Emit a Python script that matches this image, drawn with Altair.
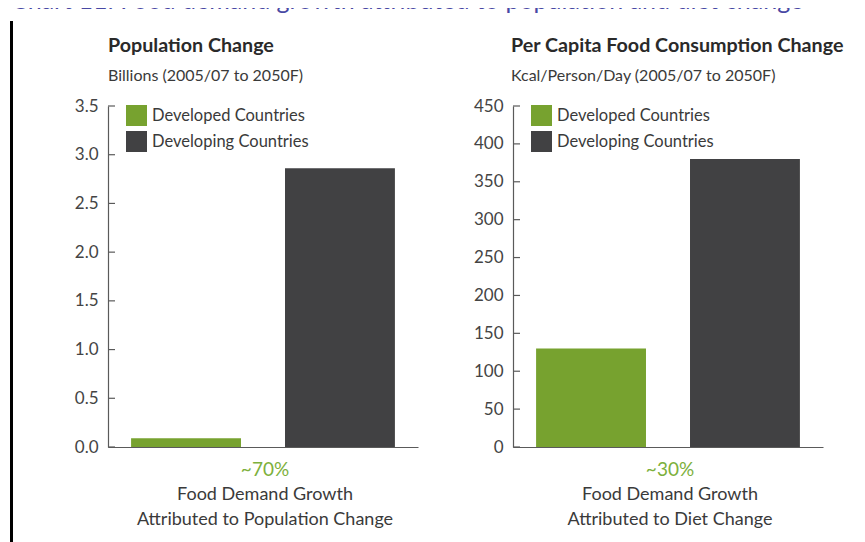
import altair as alt
import pandas as pd

categories = ["Developed Countries", "Developing Countries"]
population_change = [0.09, 2.86]
kcal_change = [130, 380]
pop_ticks = [0.0, 0.5, 1.0, 1.5, 2.0, 2.5, 3.0, 3.5]
kcal_ticks = [0, 50, 100, 150, 200, 250, 300, 350, 400, 450]
shares = ["~70%", "~30%"]
panel_titles = ["Population Change", "Per Capita Food Consumption Change"]
panel_subtitles = ["Billions (2005/07 to 2050F)", "Kcal/Person/Day (2005/07 to 2050F)"]
caption_line1 = ["Food Demand Growth", "Food Demand Growth"]
caption_line2 = ["Attributed to Population Change", "Attributed to Diet Change"]
chart_title = "Chart 11: Food demand growth attributed to population and diet change"
colors = ["#77a22f", "#414143"]

W, H = 310, 341
FONT = "Lato"
AXIS_COLOR = "#5a5a5a"
TEXT_COLOR = "#3a3a3a"


def panel(i, values, ticks, dmax, fmt, first=False):
    df = pd.DataFrame({"cat": categories, "val": values})
    y_axis = alt.Axis(values=ticks, format=fmt, title=None, grid=False, ticks=False,
                      labelPadding=10, domainColor=AXIS_COLOR, domainWidth=1.2,
                      labelFontSize=17, labelColor="#444444", labelFont=FONT)
    y_scale = alt.Scale(domain=[0, dmax], nice=False, zero=True)
    x = alt.X("cat:N", sort=categories,
              scale=alt.Scale(paddingInner=0.286, paddingOuter=0.15),
              axis=alt.Axis(labels=False, ticks=False, title=None,
                            domainColor=AXIS_COLOR, domainWidth=1.2))
    bars = alt.Chart(df).mark_bar().encode(
        x=x,
        y=alt.Y("val:Q", scale=y_scale, axis=y_axis),
        color=alt.Color("cat:N", sort=categories,
                        scale=alt.Scale(domain=categories, range=colors),
                        legend=alt.Legend(orient="none", legendX=18, legendY=-1, title=None,
                                          symbolType="square", symbolSize=441,
                                          symbolStrokeWidth=0, symbolOpacity=1,
                                          labelFontSize=16.5, labelFont=FONT,
                                          labelColor=TEXT_COLOR, rowPadding=5,
                                          labelOffset=5, padding=0)),
    )
    tdf = pd.DataFrame({"t": ticks})
    tick_rules = alt.Chart(tdf).mark_rule(color=AXIS_COLOR, strokeWidth=1.2).encode(
        y=alt.Y("t:Q", scale=y_scale, axis=y_axis),
        x=alt.value(0), x2=alt.value(7),
    )
    tx = 0 if first else -2
    title = alt.Chart(pd.DataFrame({"t": [panel_titles[i]]})).mark_text(
        align="left", baseline="middle", font=FONT, fontSize=19.7, fontWeight="bold",
        color="#2a2a2a").encode(text="t:N", x=alt.value(tx), y=alt.value(-60))
    subtitle = alt.Chart(pd.DataFrame({"t": [panel_subtitles[i]]})).mark_text(
        align="left", baseline="middle", font=FONT, fontSize=16,
        color=TEXT_COLOR).encode(text="t:N", x=alt.value(tx), y=alt.value(-30))
    share = alt.Chart(pd.DataFrame({"t": [shares[i]]})).mark_text(
        align="center", baseline="middle", font=FONT, fontSize=19,
        color="#7db03c").encode(text="t:N", x=alt.value(W / 2 + 2), y=alt.value(H + 23))
    cap1 = alt.Chart(pd.DataFrame({"t": [caption_line1[i]]})).mark_text(
        align="center", baseline="middle", font=FONT, fontSize=18,
        color=TEXT_COLOR).encode(text="t:N", x=alt.value(W / 2 + 2), y=alt.value(H + 48))
    cap2 = alt.Chart(pd.DataFrame({"t": [caption_line2[i]]})).mark_text(
        align="center", baseline="middle", font=FONT, fontSize=18,
        color=TEXT_COLOR).encode(text="t:N", x=alt.value(W / 2 + 2), y=alt.value(H + 73))
    layers = [bars, tick_rules, title, subtitle, share, cap1, cap2]
    if first:
        head = alt.Chart(pd.DataFrame({"t": [chart_title]})).mark_text(
            align="left", baseline="alphabetic", font=FONT, fontSize=25,
            color="#4848a4").encode(text="t:N", x=alt.value(-97), y=alt.value(-97))
        bar_line = alt.Chart(pd.DataFrame({"t": [0]})).mark_rule(
            color="black", strokeWidth=3).encode(
            x=alt.value(-96.5), y=alt.value(-85), y2=alt.value(H + 100))
        layers = [bar_line, head] + layers
    return alt.layer(*layers).properties(width=W, height=H)


left = panel(0, population_change, pop_ticks, 3.5, ".1f", first=True)
right = panel(1, kcal_change, kcal_ticks, 450, "d")

chart = alt.hconcat(left, right, spacing=95, bounds="flush").resolve_scale(
    color="independent"
).properties(
    padding={"left": 2, "top": -19, "right": 0, "bottom": 0},
    background="white",
).configure_view(stroke=None, strokeWidth=0)

chart.save("out.html", embed_options={"renderer": "svg", "actions": False})
